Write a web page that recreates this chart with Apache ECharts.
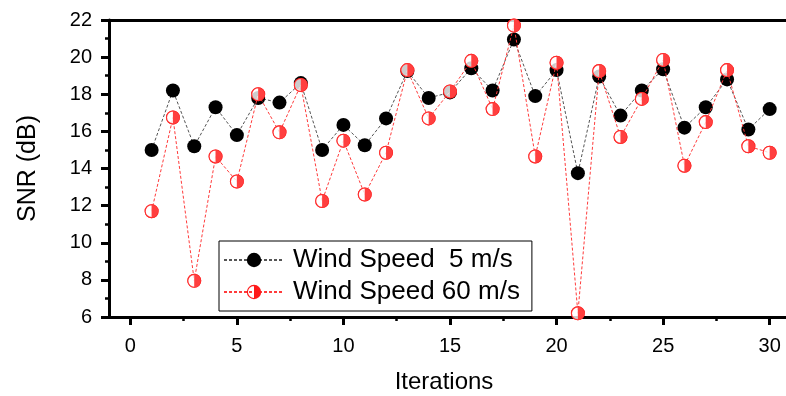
<!DOCTYPE html>
<html>
<head>
<meta charset="utf-8">
<script src="https://cdn.jsdelivr.net/npm/echarts@6/dist/echarts.min.js"></script>
<style>
html,body{margin:0;padding:0;background:#fff;}
#c{width:786px;height:396px;}
</style>
</head>
<body>
<div id="c"></div>
<script>
var iterations = [1,2,3,4,5,6,7,8,9,10,11,12,13,14,15,16,17,18,19,20,21,22,23,24,25,26,27,28,29,30];
var speed5 = [15.0,18.2,15.2,17.3,15.8,17.8,17.55,18.6,15.0,16.35,15.25,16.7,19.25,17.8,18.1,19.4,18.2,20.95,17.9,19.3,13.75,18.95,16.85,18.2,19.35,16.2,17.3,18.8,16.1,17.2];
var speed60 = [11.7,16.75,7.95,14.65,13.3,18.0,15.95,18.5,12.25,15.5,12.6,14.85,19.3,16.7,18.15,19.8,17.2,21.7,14.65,19.7,6.2,19.25,15.7,17.75,19.85,14.15,16.5,19.3,15.2,14.85];
var xMajorTicks = [0,5,10,15,20,25,30];
var xMinorTicks = [2.5,7.5,12.5,17.5,22.5,27.5];
var seriesNames = ['Wind Speed  5 m/s','Wind Speed 60 m/s'];

function pairs(xs, ys){ return xs.map(function(x,i){ return [x, ys[i]]; }); }

var FONT = "'Liberation Sans', Arial, sans-serif";
var halfSym = 'path://M10,0 A10,10 0 1,1 10,20 A10,10 0 1,1 10,0 Z M10,1.6 A8.4,8.4 0 1,0 10,18.4 A8.4,8.4 0 1,0 10,1.6 Z M10,0 A10,10 0 0,1 10,20 Z';
var RED = '#ff1a1a';

var chart = echarts.init(document.getElementById('c'), null, {renderer:'canvas'});
chart.setOption({
  animation:false,
  backgroundColor:'#fff',
  grid:{left:109, top:20, width:682, height:297, outerBoundsMode:'none', containLabel:false},
  legend:{
    data:[seriesNames[0], seriesNames[1]],
    orient:'vertical',
    left:219, top:241,
    itemWidth:60, itemHeight:18, itemGap:6,
    padding:[6,12,6,4],
    borderColor:'#000', borderWidth:1,
    backgroundColor:'#fff',
    textStyle:{fontFamily:FONT, fontSize:26, color:'#000', padding:[0,0,0,4]}
  },
  xAxis:[{
    type:'value', min:-1, max:31,
    name:'Iterations', nameLocation:'middle', nameGap:53,
    nameTextStyle:{fontFamily:FONT, fontSize:24, color:'#000', padding:[0,12,0,0]},
    axisLine:{show:true, onZero:false, lineStyle:{color:'#000', width:3}},
    axisTick:{show:true, customValues:xMajorTicks, length:8, lineStyle:{color:'#000', width:3}},
    axisLabel:{customValues:xMajorTicks, margin:19, fontFamily:FONT, fontSize:20, color:'#000'},
    splitLine:{show:false}
  },{
    type:'value', min:-1, max:31, position:'bottom',
    axisLine:{show:false},
    axisTick:{show:true, customValues:xMinorTicks, length:4, lineStyle:{color:'#000', width:2.5}},
    axisLabel:{show:false},
    splitLine:{show:false}
  },{
    type:'value', min:-1, max:31, position:'top',
    axisLine:{show:true, onZero:false, lineStyle:{color:'#000', width:3}},
    axisTick:{show:false}, axisLabel:{show:false}, splitLine:{show:false}
  }],
  yAxis:{
    type:'value', min:6, max:22, interval:2,
    name:'SNR (dB)', nameLocation:'middle', nameGap:68,
    nameTextStyle:{fontFamily:FONT, fontSize:25, color:'#000'},
    axisLine:{show:true, onZero:false, lineStyle:{color:'#000', width:3}},
    axisTick:{show:true, length:8, lineStyle:{color:'#000', width:3}},
    minorTick:{show:true, splitNumber:2, length:4, lineStyle:{color:'#000', width:2.5}},
    axisLabel:{margin:17, fontFamily:FONT, fontSize:20, color:'#000'},
    splitLine:{show:false}
  },
  series:[{
    name:seriesNames[0], type:'line', z:2,
    data:pairs(iterations, speed5),
    symbol:'circle', symbolSize:14,
    itemStyle:{color:'#000', borderWidth:0},
    lineStyle:{color:'#555', width:1, type:[3,2]}
  },{
    name:seriesNames[1], type:'line', z:3,
    data:pairs(iterations, speed60),
    symbol:halfSym, symbolSize:14,
    itemStyle:{color:RED, borderWidth:0},
    lineStyle:{color:'#ff3b3b', width:1, type:[3,2]}
  },{
    name:'mask60', type:'scatter', z:4,
    data:pairs(iterations, speed60),
    symbol:'circle', symbolSize:13,
    itemStyle:{color:'#fff', borderWidth:0}
  },{
    name:'marker60', type:'scatter', z:5,
    data:pairs(iterations, speed60),
    symbol:halfSym, symbolSize:14,
    itemStyle:{color:RED, borderWidth:0}
  }]
});
</script>
</body>
</html>
